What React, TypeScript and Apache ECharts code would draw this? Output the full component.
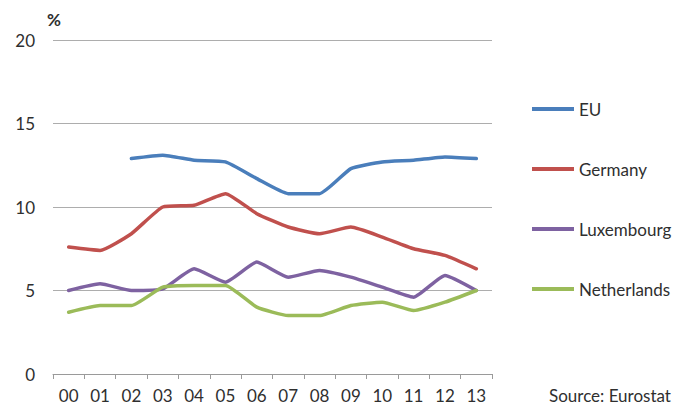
import React, { useEffect, useRef } from "react";
import * as echarts from "echarts";

// Years 2000–2013, shown as two-digit labels
const years = ["00", "01", "02", "03", "04", "05", "06", "07", "08", "09", "10", "11", "12", "13"];

// Rates in %, EU series starts in 2002
const euValues = [null, null, 12.9, 13.1, 12.8, 12.7, 11.7, 10.8, 10.8, 12.3, 12.7, 12.8, 13.0, 12.9];
const germanyValues = [7.6, 7.4, 8.4, 10.0, 10.1, 10.8, 9.6, 8.8, 8.4, 8.8, 8.2, 7.5, 7.1, 6.3];
const luxembourgValues = [5.0, 5.4, 5.0, 5.1, 6.3, 5.5, 6.7, 5.8, 6.2, 5.8, 5.2, 4.6, 5.9, 5.0];
const netherlandsValues = [3.7, 4.1, 4.1, 5.2, 5.3, 5.3, 4.0, 3.5, 3.5, 4.1, 4.3, 3.8, 4.3, 5.0];

const seriesNames = ["EU", "Germany", "Luxembourg", "Netherlands"];
const seriesColors = ["#4a7ebb", "#c0504d", "#7e62a1", "#9bbb59"];

const FONT = "Lato, 'Open Sans', sans-serif";
const TEXT_COLOR = "#2f2f2f";

export default function App() {
  const ref = useRef<HTMLDivElement>(null);

  useEffect(() => {
    if (!ref.current) return;
    const chart = echarts.init(ref.current, undefined, { renderer: "svg" });
    const valueSets = [euValues, germanyValues, luxembourgValues, netherlandsValues];

    chart.setOption({
      animation: false,
      backgroundColor: "#ffffff",
      textStyle: { fontFamily: FONT },
      grid: { left: 53, right: 189, top: 40, bottom: 34, containLabel: false },
      legend: {
        orient: "vertical",
        left: 527,
        top: 94,
        icon: "rect",
        itemWidth: 42,
        itemHeight: 4,
        itemGap: 40,
        data: seriesNames,
        textStyle: { fontFamily: FONT, fontSize: 17, color: TEXT_COLOR, lineHeight: 20 },
      },
      xAxis: {
        type: "category",
        data: years,
        boundaryGap: true,
        axisLine: { show: true, lineStyle: { color: "#9a9a9a", width: 1 } },
        axisTick: { show: true, length: 5, inside: false, lineStyle: { color: "#9a9a9a" } },
        axisLabel: { fontFamily: FONT, fontSize: 17, color: TEXT_COLOR, margin: 13 },
        splitLine: { show: false },
      },
      yAxis: {
        type: "value",
        min: 0,
        max: 20,
        interval: 5,
        axisLine: { show: false },
        axisTick: { show: false },
        axisLabel: { fontFamily: FONT, fontSize: 17, color: TEXT_COLOR, margin: 18 },
        splitLine: { show: true, lineStyle: { color: "#adadad", width: 1 } },
      },
      graphic: [
        {
          type: "text",
          left: 47,
          top: 11,
          style: { text: "%", fontFamily: FONT, fontSize: 17, fontWeight: "bold", fill: TEXT_COLOR },
        },
        {
          type: "text",
          left: 549,
          top: 387,
          style: { text: "Source: Eurostat", fontFamily: FONT, fontSize: 17, fill: TEXT_COLOR },
        },
      ],
      series: seriesNames.map((name, i) => ({
        name,
        type: "line",
        data: valueSets[i],
        color: seriesColors[i],
        smooth: 0.15,
        showSymbol: false,
        symbol: "none",
        connectNulls: false,
        lineStyle: { width: 3.5, color: seriesColors[i], cap: "round", join: "round" },
      })),
    });

    return () => chart.dispose();
  }, []);

  return <div ref={ref} style={{ width: 681, height: 408, marginLeft: -8, marginTop: -8 }} />;
}
